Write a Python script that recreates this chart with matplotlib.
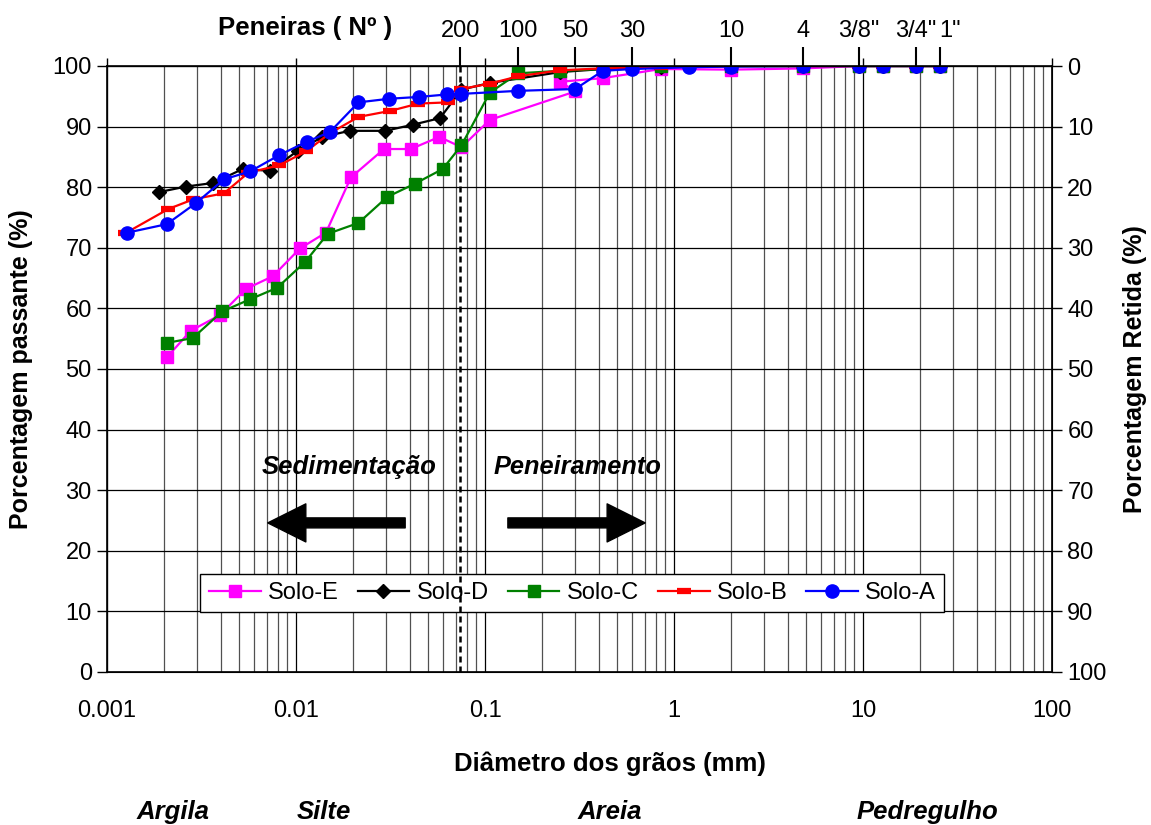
import matplotlib
matplotlib.use('Agg')
import matplotlib.pyplot as plt
from matplotlib.ticker import LogLocator, NullFormatter, FixedLocator
from matplotlib.patches import FancyArrowPatch, ArrowStyle

plt.rcParams['font.family'] = ['Liberation Sans', 'DejaVu Sans']

# dados (diametro em mm, % passante)
soloA_d = [0.00128, 0.00207, 0.00296, 0.00416, 0.00571, 0.00816, 0.0114, 0.0151, 0.0214, 0.0312,
           0.0449, 0.0627, 0.075, 0.15, 0.3, 0.42, 0.6, 1.2, 2.0, 4.8, 9.5, 12.7, 19.1, 25.4]
soloA_p = [72.5, 73.9, 77.4, 81.3, 82.6, 85.3, 87.5, 89.1, 94.0, 94.6,
           94.9, 95.3, 95.4, 95.9, 96.2, 99.2, 99.5, 99.8, 99.9, 100, 100, 100, 100, 100]

soloB_d = [0.00125, 0.00211, 0.00286, 0.00416, 0.0056, 0.00813, 0.0113, 0.0151, 0.0214, 0.0316,
           0.0444, 0.0637, 0.075, 0.106, 0.15, 0.25, 0.42, 0.85, 2.0, 4.8, 9.5, 12.7, 19.1, 25.4]
soloB_p = [72.4, 76.4, 78.0, 79.0, 82.4, 83.6, 85.9, 88.9, 91.6, 92.6,
           93.8, 94.0, 96.2, 97.1, 98.3, 99.3, 99.6, 99.8, 100, 100, 100, 100, 100, 100]

soloC_d = [0.00207, 0.00284, 0.00407, 0.00571, 0.00795, 0.0112, 0.0147, 0.0214, 0.0304, 0.0427,
           0.0597, 0.075, 0.106, 0.15, 0.25, 0.42, 0.85, 2.0, 4.8, 9.5, 12.7, 19.1, 25.4]
soloC_p = [54.3, 55.1, 59.5, 61.5, 63.4, 67.7, 72.3, 74.1, 78.4, 80.6,
           83.0, 86.9, 95.6, 98.8, 99.2, 99.5, 100, 100, 100, 100, 100, 100, 100]

soloD_d = [0.00189, 0.00261, 0.00365, 0.00522, 0.00728, 0.0102, 0.0138, 0.0192, 0.0296, 0.0414,
           0.0578, 0.075, 0.106, 0.25, 0.42, 0.85, 2.0, 4.8, 9.5, 12.7, 19.1, 25.4]
soloD_p = [79.2, 80.1, 80.7, 83.0, 82.7, 86.0, 88.3, 89.3, 89.3, 90.3,
           91.4, 96.1, 97.2, 99.0, 99.5, 99.8, 100, 100, 100, 100, 100, 100]

soloE_d = [0.00207, 0.00277, 0.00396, 0.00542, 0.00753, 0.0105, 0.0144, 0.0195, 0.0292, 0.0405,
           0.0573, 0.075, 0.106, 0.3, 0.25, 0.42, 0.85, 2.0, 4.8, 9.5, 12.7, 19.1, 25.4]
soloE_p = [51.9, 56.3, 58.9, 63.2, 65.3, 69.9, 72.5, 81.6, 86.3, 86.3,
           88.3, 86.6, 91.1, 95.8, 97.4, 98.0, 99.5, 99.4, 99.6, 100, 100, 100, 100]

peneiras_mm = [0.074, 0.15, 0.3, 0.6, 2.0, 4.8, 9.5, 19.1, 25.4]
peneiras_nome = ['200', '100', '50', '30', '10', '4', '3/8"', '3/4"', '1"']

fig = plt.figure(figsize=(11.51, 8.25), dpi=100)
ax = fig.add_axes([0.093, 0.1855, 0.821, 0.7345])

# series (ordem da legenda)
ax.plot(soloE_d, soloE_p, 's-', color='#FF00FF', lw=1.6, ms=9, label='Solo-E', zorder=4)
ax.plot(soloD_d, soloD_p, 'D-', color='black', lw=1.6, ms=7.5, label='Solo-D', zorder=4)
ax.plot(soloC_d, soloC_p, 's-', color='#008000', lw=1.6, ms=9, label='Solo-C', zorder=4)
ax.plot(soloB_d, soloB_p, '_-', color='#FF0000', lw=1.6, ms=10, mew=4.5, label='Solo-B', zorder=4)
ax.plot(soloA_d, soloA_p, 'o-', color='#0000FF', lw=1.6, ms=9.5, label='Solo-A', zorder=4)

ax.set_xscale('log')
ax.set_xlim(0.001, 100)
ax.set_ylim(0, 100)
ax.set_yticks(range(0, 101, 10))
ax.xaxis.set_minor_locator(LogLocator(base=10, subs=range(2, 10), numticks=20))
ax.xaxis.set_minor_formatter(NullFormatter())
ax.set_xticks([0.001, 0.01, 0.1, 1, 10, 100], labels=['0.001', '0.01', '0.1', '1', '10', '100'])
ax.set_axisbelow(True)
ax.grid(which='major', axis='both', color='black', lw=0.9)
ax.grid(which='minor', axis='x', color='#505050', lw=0.9)
ax.tick_params(axis='x', which='both', length=0, pad=20, labelsize=17)
ax.tick_params(axis='y', length=7, width=1, direction='out', pad=4, labelsize=17)
for s in ax.spines.values():
    s.set_linewidth(1.2)

# linha da peneira 200
ax.axvline(0.074, color='black', lw=1.8, ls=(0, (2.4, 1.6)), zorder=3)

# eixo direito (retida)
ax2 = ax.twinx()
ax2.set_ylim(100, 0)
ax2.set_yticks(range(0, 101, 10))
ax2.tick_params(axis='y', length=7, width=1, direction='out', pad=4, labelsize=17)
ax2.set_ylabel('Porcentagem Retida (%)', fontsize=18, fontweight='bold', va='center', ha='center')
ax2.yaxis.set_label_coords(1.0878, 0.5)

# eixo superior com as peneiras
sec = ax.secondary_xaxis('top')
sec.set_xticks(peneiras_mm, labels=peneiras_nome)
sec.xaxis.set_minor_locator(FixedLocator([0.001, 0.01, 0.1, 1, 10, 100]))
sec.xaxis.set_minor_formatter(NullFormatter())
sec.tick_params(which='major', length=14, width=1.5, direction='out', pad=3, labelsize=17)
sec.tick_params(which='minor', length=6, width=1, direction='out')
sec.spines['top'].set_visible(False)
sec.get_xticklabels()[-1].set_ha('left')

ax.set_ylabel('Porcentagem passante (%)', fontsize=18, fontweight='bold', va='center', ha='center')
ax.yaxis.set_label_coords(-0.0915, 0.5)
ax.set_xlabel('Diâmetro dos grãos (mm)', fontsize=18.5, fontweight='bold')
ax.xaxis.set_label_coords(0.532, -0.1315)

leg = ax.legend(loc='center', bbox_to_anchor=(0.4925, 0.13), ncol=5, fontsize=17,
                frameon=True, fancybox=False, edgecolor='black', framealpha=1,
                handlelength=2.2, columnspacing=0.8, handletextpad=0.3, borderpad=0.35)
leg.get_frame().set_linewidth(1)
leg.set_zorder(2)

# setas e textos
ax.text(0.01905, 33.9, 'Sedimentação', fontsize=18.5, fontweight='bold', style='italic',
        ha='center', va='center', zorder=5)
ax.text(0.307, 33.9, 'Peneiramento', fontsize=18.3, fontweight='bold', style='italic',
        ha='center', va='center', zorder=5)
estilo = ArrowStyle.Simple(head_length=2.74, head_width=2.74, tail_width=0.72)
ax.add_patch(FancyArrowPatch((0.0391, 24.6), (0.00685, 24.6), arrowstyle=estilo,
                             mutation_scale=10, color='black', zorder=5))
ax.add_patch(FancyArrowPatch((0.1277, 24.6), (0.728, 24.6), arrowstyle=estilo,
                             mutation_scale=10, color='black', zorder=5))

fig.text(0.265, 0.966, 'Peneiras ( Nº )', fontsize=18.5, fontweight='bold', ha='center', va='center')
for nome, xf in [('Argila', 0.150), ('Silte', 0.281), ('Areia', 0.530), ('Pedregulho', 0.806)]:
    fig.text(xf, 0.016, nome, fontsize=18.5, fontweight='bold', style='italic', ha='center', va='center')

fig.savefig('out.png', dpi=100)
